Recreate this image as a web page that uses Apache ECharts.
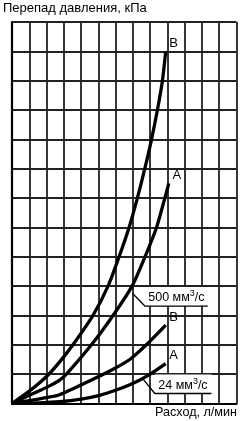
<!DOCTYPE html>
<html><head><meta charset="utf-8">
<script src="https://cdn.jsdelivr.net/npm/echarts@6/dist/echarts.min.js"></script>
<style>html,body{margin:0;padding:0;background:#fff}#c{width:241px;height:421px}</style>
</head><body><div id="c"></div>
<script>
const yTitle = 'Перепад давления, кПа';
const xTitle = 'Расход, л/мин';
const curveB500 = [[0,0],[1,0.42],[2,0.92],[2.76,1.42],[3.53,2],[4.69,3],[5.56,4],[6.2,5],[6.78,6],[7.26,7],[7.69,8],[8.08,9],[8.42,10],[8.71,11],[8.9,12]];
const curveA500 = [[0,0],[1,0.28],[2,0.55],[2.76,0.8],[3.15,1],[4.6,2],[5.85,3],[6.95,4],[7.7,5],[8.37,6],[8.85,7],[9.08,7.5]];
const curveB24 = [[0,0],[1,0.1],[2,0.2],[2.76,0.3],[4.6,0.8],[5.8,1.15],[6.82,1.5],[7.78,2.0],[8.9,2.67]];
const curveA24 = [[0,0],[1.5,0.02],[2.76,0.06],[4,0.15],[5.08,0.28],[6,0.45],[6.82,0.64],[7.4,0.8],[8,1.0],[8.9,1.36]];
const endLetters = ['B','A','B','A'];
const viscLabels = ['500', '24'];

const chart = echarts.init(document.getElementById('c'), null, {renderer:'canvas'});
const font = 'Liberation Sans, Arial, sans-serif';
function curve(data, letter){
  const last = data[data.length-1];
  return {
    type:'line', data:data, smooth:0.25, showSymbol:false, symbol:'none',
    lineStyle:{color:'#000', width:3.3}, z:5, silent:true,
    markPoint:{symbol:'circle', symbolSize:0, silent:true,
      data:[{coord:last, label:{show:true, formatter:letter, position:'inside', offset:[8,-8],
        color:'#000', fontSize:13, fontFamily:font}}]}
  };
}
function callout(anchor, kink, endX, boxTop, textPos, value){
  return {
    type:'line', data:[anchor, kink, [endX, kink[1]]], showSymbol:false, symbol:'none',
    lineStyle:{color:'#000', width:1.3}, z:6, silent:true,
    markArea:{silent:true, itemStyle:{color:'#fff'}, data:[[{coord:[kink[0], kink[1]]},{coord:[endX, boxTop]}]]},
    markPoint:{symbol:'circle', symbolSize:0, silent:true,
      data:[{coord:textPos, label:{show:true, position:'inside',
        formatter:'{a|' + value + ' мм}{s|3}{a|/с}',
        rich:{a:{fontSize:12.5, fontFamily:font, color:'#000'}, s:{fontSize:9, fontFamily:font, color:'#000', padding:[0,0,7,0]}}}}]}
  };
}
chart.setOption({
  animation:false,
  grid:{left:12, top:22, width:224.5, height:381.5},
  xAxis:{type:'value', min:0, max:13, interval:1,
    axisLine:{show:true, onZero:false, lineStyle:{color:'#000', width:2.2}}, axisTick:{show:false}, axisLabel:{show:false},
    splitLine:{show:true, lineStyle:{color:'#222', width:1.8}}},
  yAxis:{type:'value', min:0, max:13, interval:1,
    axisLine:{show:true, onZero:false, lineStyle:{color:'#000', width:2.2}}, axisTick:{show:false}, axisLabel:{show:false},
    splitLine:{show:true, lineStyle:{color:'#222', width:1.8}}},
  graphic:[
    {type:'text', left:3, top:2, style:{text:yTitle, font:'13px ' + font, fill:'#000'}},
    {type:'text', right:4, bottom:2, style:{text:xTitle, font:'12.6px ' + font, fill:'#000'}}
  ],
  series:[
    curve(curveB500, endLetters[0]),
    curve(curveA500, endLetters[1]),
    curve(curveB24, endLetters[2]),
    curve(curveA24, endLetters[3]),
    callout([6.99,3.75],[7.69,3.32],11.34,3.97,[9.52,3.62],viscLabels[0]),
    callout([7.59,0.83],[8.27,0.34],11.55,0.99,[9.9,0.62],viscLabels[1])
  ]
});
</script></body></html>
